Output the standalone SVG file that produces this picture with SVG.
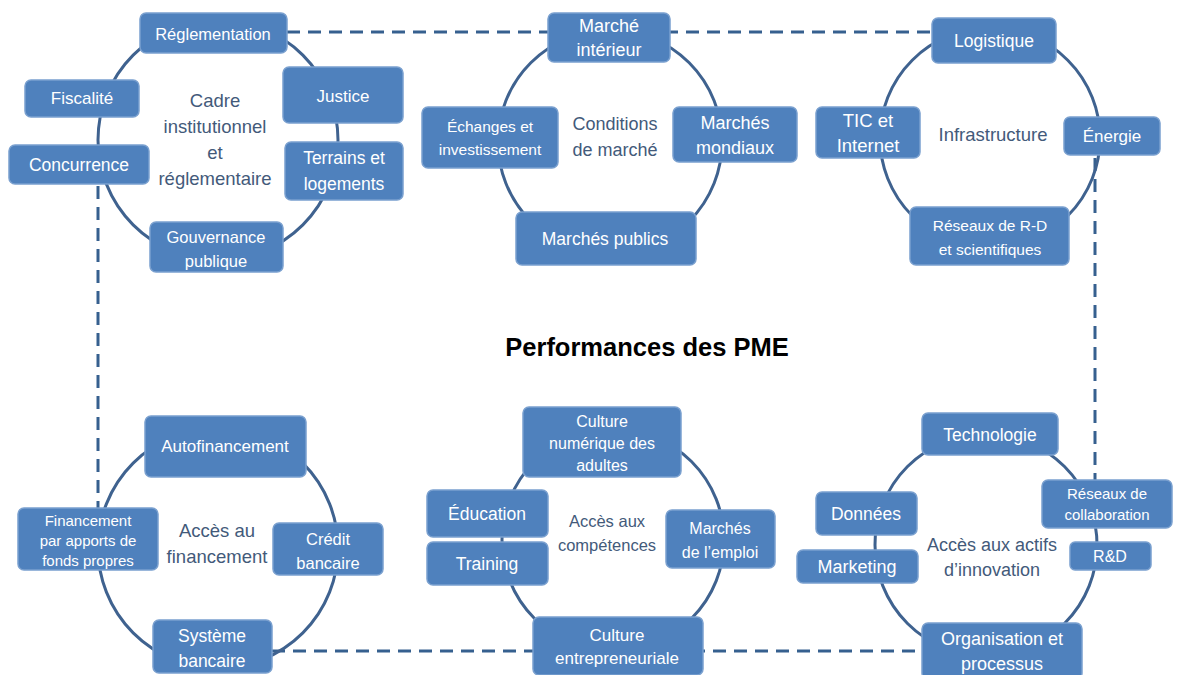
<svg xmlns="http://www.w3.org/2000/svg" width="1179" height="675" viewBox="0 0 1179 675">
  <style>
    .ring { fill: none; stroke: #3f628f; stroke-width: 3; }
    .frame { fill: none; stroke: #36608f; stroke-width: 3; stroke-dasharray: 13 8; }
    .box { fill: #4f81bd; stroke: #7aa0cf; stroke-width: 1.5; }
    .lbl { font-family: "Liberation Sans", Arial, sans-serif; fill: #ffffff; text-anchor: middle; font-size: 17px; }
    .hub { font-family: "Liberation Sans", Arial, sans-serif; fill: #435a7a; text-anchor: middle; font-size: 18.5px; }
    .title { font-family: "Liberation Sans", Arial, sans-serif; fill: #000; text-anchor: middle; font-size: 25.5px; font-weight: bold; }
  </style>
  <rect width="1179" height="675" fill="#ffffff"/>

  <!-- dashed frame linking the six pillars -->
  <g id="connectors">
    <line class="frame" x1="287" y1="32" x2="932" y2="32"/>
    <line class="frame" x1="98" y1="186" x2="98" y2="508"/>
    <line class="frame" x1="272" y1="651" x2="922" y2="651"/>
    <line class="frame" x1="1095" y1="158" x2="1095" y2="480"/>
  </g>

  <!-- rings -->
  <g id="rings">
    <circle class="ring" cx="218" cy="140" r="120"/>
    <circle class="ring" cx="610" cy="142" r="112"/>
    <circle class="ring" cx="990" cy="138" r="110"/>
    <circle class="ring" cx="218" cy="548" r="120"/>
    <circle class="ring" cx="613" cy="540" r="111"/>
    <circle class="ring" cx="986" cy="545" r="111"/>
  </g>

  <text class="title" x="647" y="356">Performances des PME</text>

  <!-- Cadre institutionnel et réglementaire -->
  <g id="cadre">
    <text class="hub" x="215" y="107">Cadre</text>
    <text class="hub" x="215" y="133">institutionnel</text>
    <text class="hub" x="215" y="159">et</text>
    <text class="hub" x="215" y="185">réglementaire</text>
  </g>
  <g id="reglementation">
    <rect class="box" x="140" y="13" width="147" height="40" rx="6"/>
    <text class="lbl" x="213" y="40" style="font-size:16.5px">Réglementation</text>
  </g>
  <g id="fiscalite">
    <rect class="box" x="25" y="80" width="114" height="37" rx="6"/>
    <text class="lbl" x="82" y="104">Fiscalité</text>
  </g>
  <g id="justice">
    <rect class="box" x="283" y="67" width="120" height="56" rx="6"/>
    <text class="lbl" x="343" y="102">Justice</text>
  </g>
  <g id="concurrence">
    <rect class="box" x="9" y="145" width="140" height="39" rx="6"/>
    <text class="lbl" x="79" y="171" style="font-size:17.5px">Concurrence</text>
  </g>
  <g id="terrains">
    <rect class="box" x="285" y="142" width="118" height="58" rx="6"/>
    <text class="lbl" x="344" y="164" style="font-size:17.5px">Terrains et</text>
    <text class="lbl" x="344" y="190" style="font-size:17.5px">logements</text>
  </g>
  <g id="gouvernance">
    <rect class="box" x="150" y="222" width="133" height="50" rx="6"/>
    <text class="lbl" x="216" y="243" style="font-size:16.5px">Gouvernance</text>
    <text class="lbl" x="216" y="267" style="font-size:16.5px">publique</text>
  </g>

  <!-- Conditions de marché -->
  <g id="conditions">
    <text class="hub" x="615" y="130" style="font-size:18px">Conditions</text>
    <text class="hub" x="615" y="156" style="font-size:18px">de marché</text>
  </g>
  <g id="marche-interieur">
    <rect class="box" x="548" y="13" width="122" height="49" rx="6"/>
    <text class="lbl" x="609" y="32" style="font-size:18px">Marché</text>
    <text class="lbl" x="609" y="56" style="font-size:18px">intérieur</text>
  </g>
  <g id="echanges">
    <rect class="box" x="422" y="107" width="136" height="61" rx="6"/>
    <text class="lbl" x="490" y="132" style="font-size:15.5px">Échanges et</text>
    <text class="lbl" x="490" y="155" style="font-size:15.5px">investissement</text>
  </g>
  <g id="marches-mondiaux">
    <rect class="box" x="673" y="107" width="124" height="55" rx="6"/>
    <text class="lbl" x="735" y="129" style="font-size:18px">Marchés</text>
    <text class="lbl" x="735" y="154" style="font-size:18px">mondiaux</text>
  </g>
  <g id="marches-publics">
    <rect class="box" x="516" y="212" width="180" height="53" rx="6"/>
    <text class="lbl" x="605" y="245" style="font-size:17.5px">Marchés publics</text>
  </g>

  <!-- Infrastructure -->
  <g id="infrastructure">
    <text class="hub" x="993" y="141">Infrastructure</text>
  </g>
  <g id="logistique">
    <rect class="box" x="932" y="18" width="124" height="45" rx="6"/>
    <text class="lbl" x="994" y="47" style="font-size:17.5px">Logistique</text>
  </g>
  <g id="tic">
    <rect class="box" x="816" y="107" width="104" height="51" rx="6"/>
    <text class="lbl" x="868" y="127" style="font-size:18.5px">TIC et</text>
    <text class="lbl" x="868" y="152" style="font-size:18.5px">Internet</text>
  </g>
  <g id="energie">
    <rect class="box" x="1064" y="117" width="96" height="38" rx="6"/>
    <text class="lbl" x="1112" y="142">Énergie</text>
  </g>
  <g id="reseaux-rd">
    <rect class="box" x="910" y="207" width="159" height="58" rx="6"/>
    <text class="lbl" x="990" y="231" style="font-size:15.5px">Réseaux de R-D</text>
    <text class="lbl" x="990" y="255" style="font-size:15.5px">et scientifiques</text>
  </g>

  <!-- Accès au financement -->
  <g id="financement">
    <text class="hub" x="217" y="537">Accès au</text>
    <text class="hub" x="217" y="563">financement</text>
  </g>
  <g id="autofinancement">
    <rect class="box" x="145" y="416" width="161" height="61" rx="6"/>
    <text class="lbl" x="225" y="452">Autofinancement</text>
  </g>
  <g id="fonds-propres">
    <rect class="box" x="18" y="508" width="140" height="62" rx="6"/>
    <text class="lbl" x="88" y="526" style="font-size:15px">Financement</text>
    <text class="lbl" x="88" y="546" style="font-size:15px">par apports de</text>
    <text class="lbl" x="88" y="566" style="font-size:15px">fonds propres</text>
  </g>
  <g id="credit">
    <rect class="box" x="273" y="523" width="110" height="52" rx="6"/>
    <text class="lbl" x="328" y="545" style="font-size:16.5px">Crédit</text>
    <text class="lbl" x="328" y="569" style="font-size:16.5px">bancaire</text>
  </g>
  <g id="systeme">
    <rect class="box" x="153" y="620" width="119" height="53" rx="6"/>
    <text class="lbl" x="212" y="642" style="font-size:17.5px">Système</text>
    <text class="lbl" x="212" y="667" style="font-size:17.5px">bancaire</text>
  </g>

  <!-- Accès aux compétences -->
  <g id="competences">
    <text class="hub" x="607" y="527" style="font-size:16.5px">Accès aux</text>
    <text class="hub" x="607" y="551" style="font-size:16.5px">compétences</text>
  </g>
  <g id="culture-numerique">
    <rect class="box" x="523" y="407" width="158" height="70" rx="6"/>
    <text class="lbl" x="602" y="427" style="font-size:16px">Culture</text>
    <text class="lbl" x="602" y="449" style="font-size:16px">numérique des</text>
    <text class="lbl" x="602" y="471" style="font-size:16px">adultes</text>
  </g>
  <g id="education">
    <rect class="box" x="427" y="490" width="121" height="47" rx="6"/>
    <text class="lbl" x="487" y="520" style="font-size:17.5px">Éducation</text>
  </g>
  <g id="training">
    <rect class="box" x="427" y="542" width="121" height="43" rx="6"/>
    <text class="lbl" x="487" y="570" style="font-size:17.5px">Training</text>
  </g>
  <g id="marches-emploi">
    <rect class="box" x="666" y="510" width="109" height="58" rx="6"/>
    <text class="lbl" x="720" y="534" style="font-size:16px">Marchés</text>
    <text class="lbl" x="720" y="558" style="font-size:16px">de l’emploi</text>
  </g>
  <g id="culture-entrepreneuriale">
    <rect class="box" x="533" y="617" width="170" height="58" rx="6"/>
    <text class="lbl" x="617" y="641">Culture</text>
    <text class="lbl" x="617" y="664">entrepreneuriale</text>
  </g>

  <!-- Accès aux actifs d'innovation -->
  <g id="innovation">
    <text class="hub" x="992" y="551" style="font-size:18px">Accès aux actifs</text>
    <text class="hub" x="992" y="576" style="font-size:18px">d’innovation</text>
  </g>
  <g id="technologie">
    <rect class="box" x="922" y="413" width="136" height="42" rx="6"/>
    <text class="lbl" x="990" y="441" style="font-size:17.5px">Technologie</text>
  </g>
  <g id="donnees">
    <rect class="box" x="816" y="492" width="101" height="43" rx="6"/>
    <text class="lbl" x="866" y="520" style="font-size:17.5px">Données</text>
  </g>
  <g id="marketing">
    <rect class="box" x="797" y="550" width="121" height="33" rx="6"/>
    <text class="lbl" x="857" y="573" style="font-size:18px">Marketing</text>
  </g>
  <g id="reseaux-collaboration">
    <rect class="box" x="1042" y="480" width="130" height="48" rx="6"/>
    <text class="lbl" x="1107" y="499" style="font-size:15px">Réseaux de</text>
    <text class="lbl" x="1107" y="520" style="font-size:15px">collaboration</text>
  </g>
  <g id="rd">
    <rect class="box" x="1070" y="542" width="81" height="28" rx="5"/>
    <text class="lbl" x="1110" y="562" style="font-size:16px">R&amp;D</text>
  </g>
  <g id="organisation">
    <rect class="box" x="922" y="623" width="160" height="56" rx="6"/>
    <text class="lbl" x="1002" y="645" style="font-size:18px">Organisation et</text>
    <text class="lbl" x="1002" y="670" style="font-size:18px">processus</text>
  </g>
</svg>
